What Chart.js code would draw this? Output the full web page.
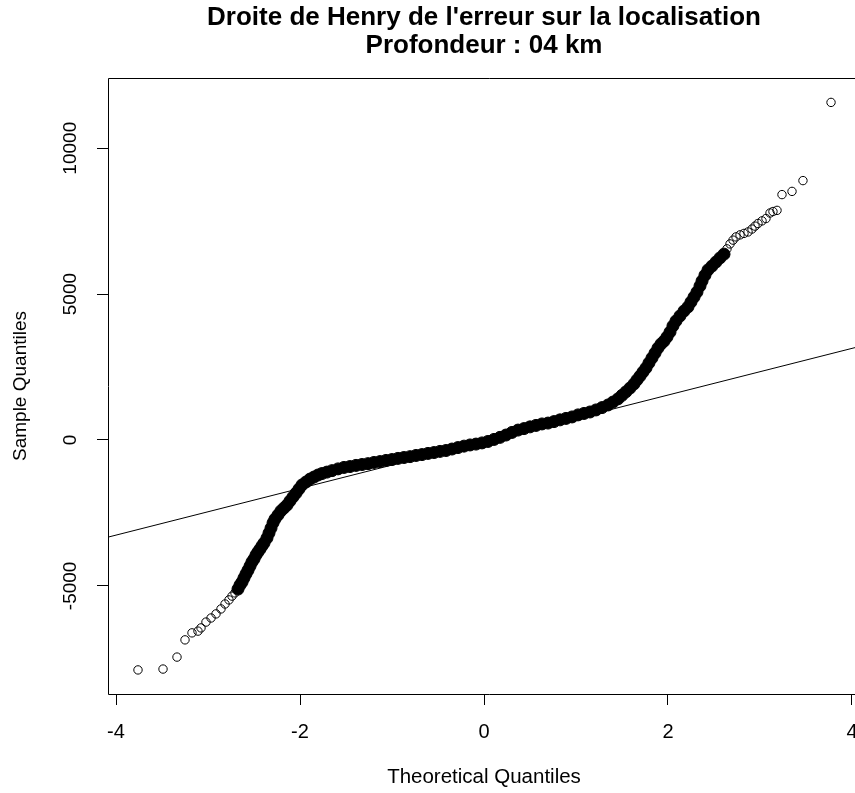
<!DOCTYPE html>
<html>
<head>
<meta charset="utf-8">
<script src="https://cdn.jsdelivr.net/npm/chart.js@4.4.0/dist/chart.umd.min.js"></script>
<style>
    html, body { margin: 0; padding: 0; background: #fff; overflow: hidden; }
    #wrap { width: 870px; height: 793px; }
</style>
</head>
<body>
<div id="wrap"><canvas id="qqChart" width="870" height="793"></canvas></div>
<script>
// Theoretical quantiles (x) and sample quantiles (y)
const lowTailX = [-3.761, -3.489, -3.337, -3.250, -3.174, -3.109, -3.076, -3.022, -2.967, -2.913, -2.859, -2.815, -2.772, -2.739, -2.707];
const lowTailY = [-7880, -7850, -7440, -6850, -6610, -6550, -6440, -6240, -6100, -5960, -5790, -5620, -5480, -5350, -5240];

const coreX = [-2.674, -2.652, -2.630, -2.609, -2.587, -2.565, -2.543, -2.522, -2.500, -2.478, -2.457, -2.435, -2.413,
    -2.391, -2.359, -2.337, -2.315, -2.293, -2.272, -2.239, -2.207, -2.174, -2.141, -2.109, -2.076, -2.043, -2.011,
    -1.978, -1.935, -1.891, -1.848, -1.804, -1.761, -1.707, -1.652, -1.587, -1.522, -1.457, -1.391, -1.326, -1.261, -1.196, -1.130, -1.065, -1.000,
    -0.935, -0.870, -0.804, -0.739, -0.674, -0.609, -0.543, -0.478, -0.413, -0.348, -0.283, -0.217, -0.152, -0.087, -0.022,
    0.043, 0.109, 0.174, 0.239, 0.304, 0.370, 0.435, 0.500, 0.565, 0.630, 0.696, 0.761, 0.826, 0.891, 0.957,
    1.022, 1.087, 1.152, 1.217, 1.283, 1.348, 1.402, 1.457, 1.500, 1.543, 1.587, 1.630, 1.663, 1.696, 1.728, 1.761, 1.793, 1.826, 1.859, 1.891, 1.924, 1.957, 1.989,
    2.022, 2.054, 2.087, 2.130, 2.174, 2.217, 2.250, 2.283, 2.315, 2.348, 2.370, 2.402, 2.435, 2.478, 2.522, 2.565, 2.609];
const coreY = [-5110, -4970, -4870, -4730, -4590, -4460, -4320, -4180, -4080, -3940, -3840, -3740, -3630,
    -3530, -3360, -3190, -3020, -2840, -2710, -2570, -2430, -2330, -2230, -2090, -1950, -1820, -1680,
    -1540, -1440, -1340, -1270, -1200, -1150, -1100, -1050, -990, -940, -910, -870, -840, -810, -770, -740, -700, -670,
    -630, -600, -570, -530, -500, -460, -430, -390, -360, -310, -260, -210, -170, -140, -100,
    -50, 20, 90, 170, 260, 340, 390, 450, 500, 550, 580, 630, 690, 740, 790,
    860, 910, 960, 1030, 1110, 1200, 1300, 1410, 1530, 1650, 1780, 1920, 2060, 2190, 2330, 2470, 2640, 2810, 2980, 3150, 3290, 3390, 3530,
    3700, 3910, 4080, 4250, 4420, 4560, 4730, 4900, 5070, 5280, 5450, 5650, 5830, 5960, 6100, 6240, 6370];

const highTailX = [2.641, 2.674, 2.707, 2.739, 2.783, 2.826, 2.870, 2.913, 2.946, 2.978, 3.022, 3.065, 3.109, 3.141, 3.185, 3.239, 3.348, 3.467, 3.772];
const highTailY = [6550, 6720, 6850, 6960, 7030, 7080, 7130, 7230, 7330, 7420, 7510, 7590, 7780, 7830, 7870, 8410, 8520, 8890, 11570];

// qqline end points
const lineX = [-4.5, 4.5];
const lineY = [-3660, 3540];

const xTicks = [-4, -2, 0, 2, 4];
const yTicks = [-5000, 0, 5000, 10000];

const titleLines = ["Droite de Henry de l'erreur sur la localisation", 'Profondeur : 04 km'];
const xLabel = 'Theoretical Quantiles';
const yLabel = 'Sample Quantiles';

document.addEventListener('DOMContentLoaded', function() {
    const FONT = '"Liberation Sans", Arial, sans-serif';
    Chart.defaults.font.family = FONT;
    Chart.defaults.color = '#000';

    const toPoints = (xs, ys) => xs.map((x, i) => ({ x: x, y: ys[i] }));

    // plot frame (its right side lies past the picture edge) + rotated y tick labels
    const framePlugin = {
        id: 'frame',
        afterDraw(chart) {
            const { ctx, chartArea: a, scales } = chart;
            const l = Math.round(a.left) + 0.5, t = Math.round(a.top) + 0.5, b = Math.round(a.bottom) + 0.5;
            ctx.save();
            ctx.strokeStyle = '#000';
            ctx.lineWidth = 1;
            ctx.beginPath();
            ctx.moveTo(chart.width, t);
            ctx.lineTo(l, t);
            ctx.lineTo(l, b);
            ctx.lineTo(chart.width, b);
            ctx.stroke();
            ctx.font = '19px ' + FONT;
            ctx.fillStyle = '#000';
            ctx.textAlign = 'center';
            ctx.textBaseline = 'middle';
            yTicks.forEach(v => {
                const py = scales.y.getPixelForValue(v);
                ctx.save();
                ctx.translate(a.left - 37, py);
                ctx.rotate(-Math.PI / 2);
                ctx.fillText(String(v), 0, 0);
                ctx.restore();
            });
            ctx.restore();
        }
    };

    const ctx = document.getElementById('qqChart').getContext('2d');
    new Chart(ctx, {
        type: 'scatter',
        data: {
            datasets: [{
                data: toPoints(lowTailX.concat(highTailX), lowTailY.concat(highTailY)),
                pointRadius: 4.2,
                pointBorderWidth: 1,
                pointBorderColor: '#000',
                pointBackgroundColor: 'rgba(0,0,0,0)'
            }, {
                data: toPoints(coreX, coreY),
                pointRadius: 6,
                pointBorderWidth: 1,
                pointBorderColor: '#000',
                pointBackgroundColor: '#000'
            }, {
                type: 'line',
                data: toPoints(lineX, lineY),
                borderColor: '#000',
                borderWidth: 1,
                pointRadius: 0,
                tension: 0
            }]
        },
        options: {
            responsive: false,
            animation: false,
            devicePixelRatio: 1,
            layout: { padding: { left: 0, right: 10, top: 0, bottom: 0 } },
            plugins: {
                legend: { display: false },
                tooltip: { enabled: false },
                title: {
                    display: true,
                    fullSize: false,
                    text: titleLines,
                    color: '#000',
                    font: { size: 26, weight: 'bold', lineHeight: 1.077 },
                    padding: { top: 4, bottom: 18 }
                }
            },
            scales: {
                x: {
                    type: 'linear',
                    min: -4.087,
                    max: 4.087,
                    afterBuildTicks: scale => { scale.ticks = xTicks.map(v => ({ value: v })); },
                    afterFit: scale => { scale.height = 99; scale.paddingLeft = 0; scale.paddingRight = 0; },
                    ticks: {
                        color: '#000',
                        font: { size: 20 },
                        padding: 15,
                        maxRotation: 0,
                        autoSkip: false,
                        callback: v => String(v)
                    },
                    grid: { drawOnChartArea: false, drawTicks: true, tickLength: 11, color: '#000', lineWidth: 1 },
                    border: { display: false },
                    title: { display: true, text: xLabel, color: '#000', font: { size: 20.5 }, padding: { top: 0, bottom: 3 } }
                },
                y: {
                    type: 'linear',
                    min: -8705,
                    max: 12406,
                    afterBuildTicks: scale => { scale.ticks = yTicks.map(v => ({ value: v })); },
                    afterFit: scale => { scale.width = 108; scale.paddingTop = 0; scale.paddingBottom = 0; },
                    ticks: { display: false },
                    grid: { drawOnChartArea: false, drawTicks: true, tickLength: 11, color: '#000', lineWidth: 1 },
                    border: { display: false },
                    title: { display: true, text: yLabel, color: '#000', font: { size: 19 }, padding: { top: 9, bottom: 0 } }
                }
            }
        },
        plugins: [framePlugin]
    });
});
</script>
</body>
</html>
